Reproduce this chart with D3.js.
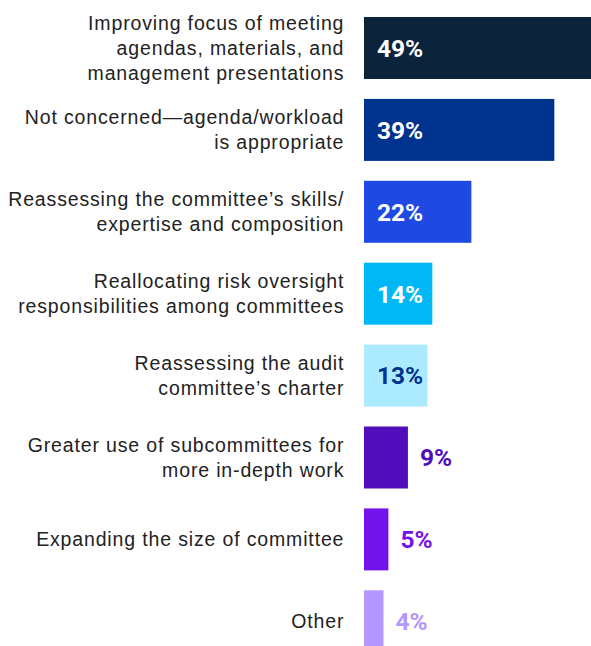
<!DOCTYPE html>
<html>
<head>
<meta charset="utf-8">
<script src="https://cdn.jsdelivr.net/npm/d3@7"></script>
<style>
  html, body { margin: 0; padding: 0; background: #ffffff; }
  svg { display: block; }
</style>
</head>
<body>
<div id="chart"></div>
<script>
// Survey responses: actions taken on committee agenda/workload
const categories = [
  "Improving focus of meeting\nagendas, materials, and\nmanagement presentations",
  "Not concerned\u2014agenda/workload\nis appropriate",
  "Reassessing the committee\u2019s skills/\nexpertise and composition",
  "Reallocating risk oversight\nresponsibilities among committees",
  "Reassessing the audit\ncommittee\u2019s charter",
  "Greater use of subcommittees for\nmore in-depth work",
  "Expanding the size of committee",
  "Other"
];
const values = [49, 39, 22, 14, 13, 9, 5, 4];
const barColors = ["#0c233c", "#00338d", "#1e49e2", "#00b8f5", "#acebff", "#510dbc", "#7213ea", "#b497ff"];
const labelColors = ["#ffffff", "#ffffff", "#ffffff", "#ffffff", "#00338d", "#510dbc", "#7213ea", "#b497ff"];
const labelInside = [true, true, true, true, true, false, false, false];

const W = 591, H = 646;
const svg = d3.select("#chart").append("svg")
  .attr("width", W).attr("height", H);

const x = d3.scaleLinear().domain([0, 50]).range([364, 608]);
const y = d3.scaleBand().domain(categories).range([17, 652.3])
  .paddingInner(0.243).paddingOuter(0);

const rows = svg.selectAll("g.row")
  .data(categories.map((c, i) => ({ c, v: values[i], i })))
  .join("g").attr("class", "row");

rows.append("rect")
  .attr("x", x(0))
  .attr("y", d => y(d.c))
  .attr("width", d => x(d.v) - x(0))
  .attr("height", y.bandwidth())
  .attr("fill", d => barColors[d.i]);

// value labels: inside the bar for longer bars, beside it for short ones
rows.append("text")
  .attr("x", d => labelInside[d.i] ? x(0) + 13 : x(d.v) + 12)
  .attr("y", d => y(d.c) + y.bandwidth() / 2)
  .attr("dy", "0.36em")
  .attr("fill", d => labelColors[d.i])
  .attr("font-family", "Roboto, 'Liberation Sans', Arial, sans-serif")
  .attr("font-weight", 700)
  .attr("font-size", 24.5)
  .text(d => d.v + "%");

// category labels, right-aligned and centred on each bar
const lineH = 25;
rows.append("text")
  .attr("text-anchor", "end")
  .attr("fill", "#222222")
  .attr("font-family", "'Liberation Sans', Arial, sans-serif")
  .attr("font-size", 19.5)
  .attr("letter-spacing", 0.85)
  .each(function (d) {
    const lines = d.c.split("\n");
    const cy = y(d.c) + y.bandwidth() / 2;
    const t = d3.select(this);
    lines.forEach((ln, k) => {
      t.append("tspan")
        .attr("x", 344.3)
        .attr("y", cy + (k - (lines.length - 1) / 2) * lineH + 7)
        .text(ln);
    });
  });
</script>
</body>
</html>
